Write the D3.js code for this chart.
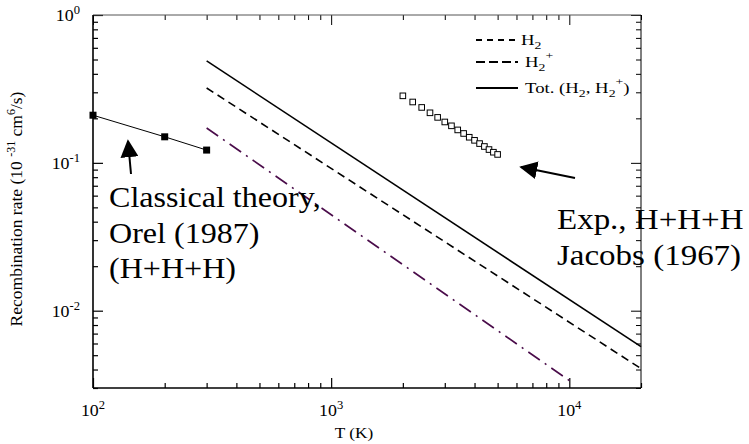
<!DOCTYPE html>
<html><head><meta charset="utf-8">
<script src="https://cdn.jsdelivr.net/npm/d3@7"></script>
<style>
body{margin:0;background:#fff;}
svg{display:block;font-family:"Liberation Serif","DejaVu Serif",serif;}
</style></head>
<body><svg id="c" width="749" height="444"></svg>
<script>
// ---- data ----
const orelT = [100, 200, 300];
const orelRate = [0.21, 0.15, 0.122];
const jacobsT = [2000,2200,2400,2600,2800,3000,3200,3400,3600,3800,4000,4200,4400,4600,4800,5000];
const jacobsRate = [0.284,0.258,0.237,0.218,0.203,0.189,0.178,0.167,0.158,0.149,0.142,0.135,0.129,0.123,0.118,0.114];
const totT = [300, 20000];
const totRate = [0.489, 0.00571];
const h2pT = [300, 20000];
const h2pRate = [0.321, 0.00406];
const h2T = [300, 10000];
const h2Rate = [0.172, 0.00337];
const xMajor = [100, 1000, 10000];
const xMajorExp = ["2", "3", "4"];
const yMajor = [1, 0.1, 0.01];
const yMajorExp = ["0", "-1", "-2"];
const notesL = ["Classical theory,", "Orel (1987)", "(H+H+H)"];
const notesR = ["Exp., H+H+H", "Jacobs (1967)"];

const svg = d3.select("#c");
const x = d3.scaleLog().domain([100, 20000]).range([93, 641]);
const y = d3.scaleLog().domain([0.003, 1]).range([388, 15]);

// text helper with horizontal stretch
function stext(px, py, size, sx, anchor) {
  return svg.append("g").attr("transform", `translate(${px},${py}) scale(${sx},1)`)
    .append("text").attr("font-size", size).attr("text-anchor", anchor || "start");
}

// minor ticks
const xMinor = [];
for (let d = 100; d <= 10000; d *= 10) for (let k = 2; k <= 9; k++) { const v = d * k; if (v <= 20000) xMinor.push(v); }
const yMinor = [];
for (let d = 0.001; d < 1; d *= 10) for (let k = 2; k <= 9; k++) { const v = d * k; if (v >= 0.003 && v < 1) yMinor.push(v); }

function ax(gen, scale, vals, size, tr, sw) {
  const g = svg.append("g").attr("transform", tr)
    .call(gen(scale).tickValues(vals).tickSize(size).tickFormat(""));
  g.select(".domain").remove();
  g.selectAll("line").attr("stroke", "#000").attr("stroke-width", sw);
  return g;
}
ax(d3.axisBottom, x, xMajor, -10, "translate(0,388)", 1.2);
ax(d3.axisBottom, x, xMinor, -5, "translate(0,388)", 1.2);
ax(d3.axisTop, x, xMajor, -10, "translate(0,15)", 1);
ax(d3.axisTop, x, xMinor, -5, "translate(0,15)", 1);
ax(d3.axisLeft, y, yMajor, -10, "translate(93,0)", 1.2);
ax(d3.axisLeft, y, yMinor, -5, "translate(93,0)", 1.2);
ax(d3.axisRight, y, yMajor, -10, "translate(641,0)", 1);
ax(d3.axisRight, y, yMinor, -5, "translate(641,0)", 1);

// frame
svg.append("line").attr("x1",93).attr("x2",641).attr("y1",15).attr("y2",15).attr("stroke","#555").attr("stroke-width",1);
svg.append("line").attr("x1",641).attr("x2",641).attr("y1",15).attr("y2",388).attr("stroke","#000").attr("stroke-width",1);
svg.append("line").attr("x1",93).attr("x2",641).attr("y1",388).attr("y2",388).attr("stroke","#000").attr("stroke-width",1.6);
svg.append("line").attr("x1",93).attr("x2",93).attr("y1",15).attr("y2",388).attr("stroke","#000").attr("stroke-width",1.6);

// tick labels
xMajor.forEach((v, i) => {
  const t = stext(x(v), 416, 17, 1.05, "middle");
  t.append("tspan").text("10");
  t.append("tspan").attr("dy", -7).attr("font-size", 12).text(xMajorExp[i]);
});
yMajor.forEach((v, i) => {
  const t = stext(80, y(v) + 6, 17, 1.05, "end");
  t.append("tspan").text("10");
  t.append("tspan").attr("dy", -7).attr("font-size", 12).text(yMajorExp[i]);
});

// axis titles
stext(354, 438, 15, 1.15, "middle").text("T (K)");
const yl = svg.append("text").attr("transform", "translate(22,209) rotate(-90)").attr("text-anchor", "middle").attr("font-size", 17.5);
yl.append("tspan").text("Recombination rate (10 ");
yl.append("tspan").attr("dy", -7).attr("font-size", 12).text("-31");
yl.append("tspan").attr("dy", 7).text(" cm");
yl.append("tspan").attr("dy", -7).attr("font-size", 12).text("6");
yl.append("tspan").attr("dy", 7).text("/s)");

const line = d3.line().x(d => x(d[0])).y(d => y(d[1]));
const zip = (a, b) => a.map((v, i) => [v, b[i]]);

// model lines
svg.append("path").attr("d", line(zip(totT, totRate))).attr("fill", "none").attr("stroke", "#000").attr("stroke-width", 1.6);
svg.append("path").attr("d", line(zip(h2pT, h2pRate))).attr("fill", "none").attr("stroke", "#000").attr("stroke-width", 1.6).attr("stroke-dasharray", "8,5");
svg.append("path").attr("d", line(zip(h2T, h2Rate))).attr("fill", "none").attr("stroke", "#4a0c4a").attr("stroke-width", 1.6).attr("stroke-dasharray", "14,6,2,6");

// Orel
svg.append("path").attr("d", line(zip(orelT, orelRate))).attr("fill", "none").attr("stroke", "#000").attr("stroke-width", 1);
svg.selectAll(".orel").data(zip(orelT, orelRate)).enter().append("rect")
  .attr("x", d => x(d[0]) - 3.5).attr("y", d => y(d[1]) - 3.5).attr("width", 7).attr("height", 7).attr("fill", "#000");

// Jacobs
svg.selectAll(".jac").data(zip(jacobsT, jacobsRate)).enter().append("rect")
  .attr("x", d => x(d[0]) - 2.8).attr("y", d => y(d[1]) - 2.8).attr("width", 5.6).attr("height", 5.6)
  .attr("fill", "#fff").attr("stroke", "#000").attr("stroke-width", 1);

// legend
const lg = [
  {y: 40, dash: "6,5"},
  {y: 62, dash: "9,4"},
  {y: 88, dash: null}
];
lg.forEach(r => {
  const l = svg.append("line").attr("x1", 476).attr("x2", 518).attr("y1", r.y).attr("y2", r.y).attr("stroke", "#000").attr("stroke-width", 1.8);
  if (r.dash) l.attr("stroke-dasharray", r.dash);
});
const LS = 1.25;
let t1 = stext(521, 45, 15, LS);
t1.append("tspan").text("H");
t1.append("tspan").attr("dy", 4).attr("font-size", 11).text("2");
let t2 = stext(525, 67, 15, LS);
t2.append("tspan").text("H");
t2.append("tspan").attr("dy", 4).attr("font-size", 11).text("2");
t2.append("tspan").attr("dy", -12).attr("font-size", 11).text("+");
let t3 = stext(525, 93, 15, LS);
t3.append("tspan").text("Tot. (H");
t3.append("tspan").attr("dy", 4).attr("font-size", 11).text("2");
t3.append("tspan").attr("dy", -4).text(", H");
t3.append("tspan").attr("dy", 4).attr("font-size", 11).text("2");
t3.append("tspan").attr("dy", -12).attr("font-size", 11).text("+");
t3.append("tspan").attr("dy", 8).text(")");

// arrows
svg.append("defs").append("marker").attr("id", "ah").attr("viewBox", "0 0 10 10").attr("refX", 9).attr("refY", 5)
  .attr("markerWidth", 18).attr("markerHeight", 18).attr("markerUnits", "userSpaceOnUse").attr("orient", "auto")
  .append("path").attr("d", "M0,0 L10,5 L0,10 z").attr("fill", "#000");
svg.append("line").attr("x1", 131).attr("y1", 174).attr("x2", 128).attr("y2", 141).attr("stroke", "#000").attr("stroke-width", 2)
  .attr("marker-end", "url(#ah)");
svg.append("line").attr("x1", 575).attr("y1", 178).attr("x2", 521).attr("y2", 167).attr("stroke", "#000").attr("stroke-width", 2)
  .attr("marker-end", "url(#ah)");

// annotations
notesL.forEach((s, i) => stext(109, 207 + i * 35.5, 30, 1.07).text(s));
notesR.forEach((s, i) => stext(557, 229 + i * 35.5, 30, 1.1).text(s));
</script></body></html>
